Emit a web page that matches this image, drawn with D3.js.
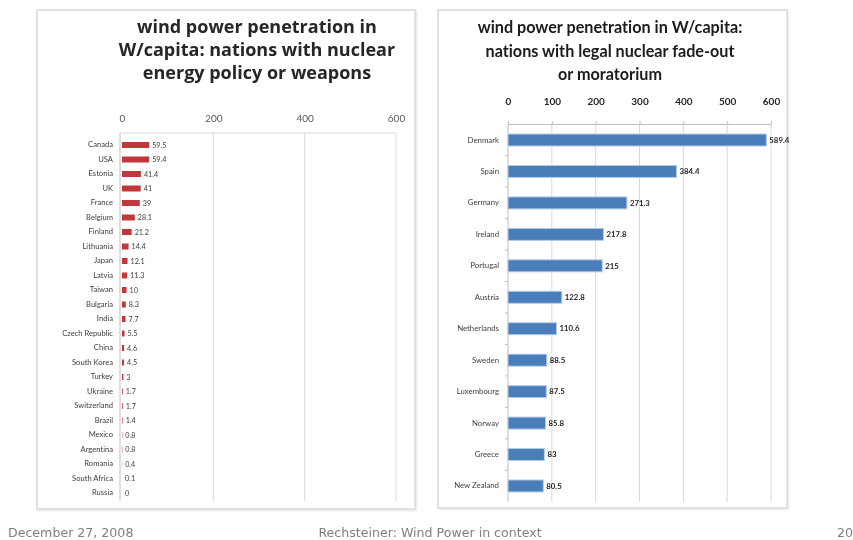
<!DOCTYPE html>
<html>
<head>
<meta charset="utf-8">
<script src="https://cdn.jsdelivr.net/npm/d3@7"></script>
<style>
  html, body { margin: 0; padding: 0; background: #fff; }
  svg { display: block; }
  text { font-variant-ligatures: none; }
</style>
</head>
<body>
<svg id="chart" width="853" height="540"></svg>
<script>
// Wind power per capita (W/capita), end of 2008
const nuclearNations = ["Canada","USA","Estonia","UK","France","Belgium","Finland","Lithuania","Japan","Latvia","Taiwan","Bulgaria","India","Czech Republic","China","South Korea","Turkey","Ukraine","Switzerland","Brazil","Mexico","Argentina","Romania","South Africa","Russia"];
const nuclearValues  = [59.5,59.4,41.4,41,39,28.1,21.2,14.4,12.1,11.3,10,8.3,7.7,5.5,4.6,4.5,3,1.7,1.7,1.4,0.8,0.8,0.4,0.1,0];
const leftTicks = [0,200,400,600];

const fadeOutNations = ["Denmark","Spain","Germany","Ireland","Portugal","Austria","Netherlands","Sweden","Luxembourg","Norway","Greece","New Zealand"];
const fadeOutValues  = [589.4,384.4,271.3,217.8,215,122.8,110.6,88.5,87.5,85.8,83,80.5];
const rightTicks = [0,100,200,300,400,500,600];

const leftTitle  = ["wind power penetration in","W/capita: nations with nuclear","energy policy or weapons"];
const rightTitle = ["wind power penetration in W/capita:","nations  with legal nuclear fade-out","or moratorium"];

const svg = d3.select("#chart");

// soft drop shadow for the two panels
const defs = svg.append("defs");
const sh = defs.append("filter").attr("id","shadow").attr("x","-5%").attr("y","-5%").attr("width","110%").attr("height","110%");
sh.append("feGaussianBlur").attr("in","SourceAlpha").attr("stdDeviation",1.2);
sh.append("feOffset").attr("dx",1).attr("dy",1).attr("result","b");
sh.append("feComponentTransfer").append("feFuncA").attr("type","linear").attr("slope",0.12);
const m = sh.append("feMerge"); m.append("feMergeNode"); m.append("feMergeNode").attr("in","SourceGraphic");

const soft = defs.append("filter").attr("id","soft");
soft.append("feGaussianBlur").attr("stdDeviation",0.35);

const root = svg.append("g").attr("filter","url(#soft)");

function panel(x0, y0, x1, y1) {
  root.append("rect").attr("x",x0).attr("y",y0).attr("width",x1-x0).attr("height",y1-y0)
    .attr("fill","#fff").attr("stroke","#d9d9d9").attr("stroke-width",1.5).attr("filter","url(#shadow)");
}
panel(37, 10, 415, 509);
panel(438, 10, 787, 508);

// ---------- left chart ----------
{
  const g = root.append("g");
  const x = d3.scaleLinear().domain([0,600]).range([122,396]);
  const y = d3.scaleBand().domain(nuclearNations).range([137.75,500.25]);

  g.selectAll("text.title").data(leftTitle).join("text")
    .attr("x",257).attr("y",(d,i)=>33+i*23).attr("text-anchor","middle")
    .attr("font-family","Open Sans, sans-serif").attr("font-weight","bold").attr("font-size",18)
    .attr("fill","#262626").text(d=>d);

  // grid
  g.selectAll("line.grid").data(leftTicks.slice(1)).join("line")
    .attr("x1",d=>x(d)).attr("x2",d=>x(d)).attr("y1",133).attr("y2",501)
    .attr("stroke","#d9d9d9").attr("stroke-width",1);
  g.append("line").attr("x1",120).attr("x2",x(600)).attr("y1",133).attr("y2",133)
    .attr("stroke","#d9d9d9");

  const ax = d3.axisTop(x).tickValues(leftTicks).tickSize(0).tickPadding(0);
  const axG = g.append("g").attr("transform","translate(0,122)").call(ax);
  axG.select(".domain").remove();
  axG.selectAll("text").attr("font-family","Lato, sans-serif").attr("font-size",10).attr("fill","#595959");

  const ay = d3.axisLeft(y).tickSize(0).tickPadding(7);
  const ayG = g.append("g").attr("transform","translate(120,0)").call(ay);
  ayG.select(".domain").attr("stroke","#bfbfbf").attr("d","M0,133V501");
  ayG.selectAll("text").attr("font-family","Lato, sans-serif").attr("font-size",7.6).attr("fill","#404040");

  const rows = nuclearNations.map((c,i)=>({c, v:nuclearValues[i]}));
  g.selectAll("rect.bar").data(rows).join("rect")
    .attr("x",x(0)).attr("y",d=>y(d.c)+y.bandwidth()/2-3)
    .attr("width",d=>x(d.v)-x(0)).attr("height",6)
    .attr("fill","#c0393b");
  g.selectAll("text.val").data(rows).join("text")
    .attr("x",d=>x(d.v)+3).attr("y",d=>y(d.c)+y.bandwidth()/2).attr("dy","0.35em")
    .attr("font-family","Lato, sans-serif").attr("font-size",7.2).attr("fill","#404040")
    .text(d=>d.v);
}

// ---------- right chart ----------
{
  const g = root.append("g");
  const x = d3.scaleLinear().domain([0,600]).range([508,771]);
  const y = d3.scaleBand().domain(fadeOutNations).range([124.3,501.7]);

  g.selectAll("text.title").data(rightTitle).join("text")
    .attr("x",610).attr("y",(d,i)=>33+i*23.5).attr("text-anchor","middle")
    .attr("font-family","Lato, sans-serif").attr("font-weight","bold").attr("font-size",16.2)
    .attr("fill","#1a1a1a").text(d=>d);

  g.selectAll("line.grid").data(rightTicks.slice(1)).join("line")
    .attr("x1",d=>x(d)).attr("x2",d=>x(d)).attr("y1",124).attr("y2",502)
    .attr("stroke","#d9d9d9").attr("stroke-width",1);

  const axTop = d3.axisTop(x).tickValues(rightTicks).tickSize(3).tickPadding(16);
  const axG = g.append("g").attr("transform","translate(0,124)").call(axTop);
  axG.select(".domain").attr("stroke","#bfbfbf");
  axG.selectAll(".tick line").attr("stroke","#bfbfbf");
  axG.selectAll("text").attr("font-family","Lato, sans-serif").attr("font-weight","bold")
    .attr("font-size",10).attr("fill","#262626");

  const ay = d3.axisLeft(y).tickSize(0).tickPadding(9);
  const ayG = g.append("g").attr("transform","translate(508,0)").call(ay);
  ayG.select(".domain").attr("stroke","#bfbfbf").attr("d","M0,124V502");
  ayG.selectAll("text").attr("font-family","Lato, sans-serif").attr("font-size",7.8).attr("fill","#404040");
  // small marks between categories
  g.selectAll("line.sep").data(fadeOutNations.slice(1)).join("line")
    .attr("x1",505).attr("x2",508).attr("y1",d=>y(d)).attr("y2",d=>y(d))
    .attr("stroke","#bfbfbf");

  const rows = fadeOutNations.map((c,i)=>({c, v:fadeOutValues[i]}));
  g.selectAll("rect.bar").data(rows).join("rect")
    .attr("x",x(0)).attr("y",d=>y(d.c)+y.bandwidth()/2-6)
    .attr("width",d=>x(d.v)-x(0)).attr("height",12)
    .attr("fill","#4a7ebb").attr("stroke","#b7cce6").attr("stroke-width",1);
  g.selectAll("text.val").data(rows).join("text")
    .attr("x",d=>x(d.v)+3).attr("y",d=>y(d.c)+y.bandwidth()/2).attr("dy","0.35em")
    .attr("font-family","Lato, sans-serif").attr("font-weight","bold").attr("font-size",7.8).attr("fill","#262626")
    .text(d=>d.v);
}

// ---------- footer ----------
const foot = root.append("g").attr("font-family","DejaVu Sans, sans-serif").attr("font-size",12.6).attr("fill","#7f7f7f");
foot.append("text").attr("x",8).attr("y",537).text("December 27, 2008");
foot.append("text").attr("x",430).attr("y",537).attr("text-anchor","middle").text("Rechsteiner: Wind Power in context");
foot.append("text").attr("x",837).attr("y",537).text("20");
</script>
</body>
</html>
